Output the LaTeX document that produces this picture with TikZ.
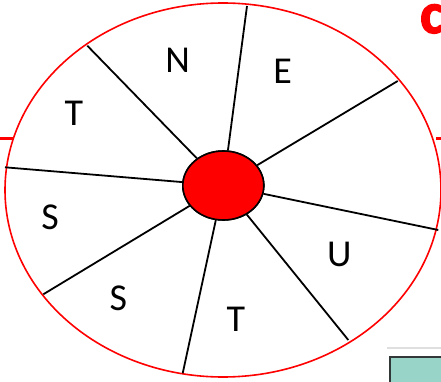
\documentclass[tikz,border=0pt]{standalone}
\usepackage{fontspec}
\setmainfont{Carlito}
\newfontfamily\heavyfont[FakeBold=2.5]{Carlito Bold}
\usetikzlibrary{shapes.geometric}
\definecolor{boxteal}{RGB}{152,212,200}
\definecolor{boxedge}{RGB}{50,55,55}
\tikzset{
  rim/.style={draw=red, line width=1.6pt},
  spoke/.style={draw=black, line width=1.8pt},
  hub/.style={ellipse, draw=black, line width=1.6pt, fill=red, minimum width=81pt, minimum height=69pt, inner sep=0pt},
  letter/.style={font=\fontsize{38}{40}\selectfont, inner sep=0pt},
  redbar/.style={draw=red, line width=3pt},
}
\begin{document}
\begin{tikzpicture}[x=1pt,y=-1pt]
\useasboundingbox (0,0) rectangle (441,382);
\begin{scope}
\clip (0,0) rectangle (441,382);
% title fragment
\node[anchor=base west, text=red, font=\fontsize{58}{60}\heavyfont, inner sep=0pt] (title) at (420,33) {c};
% bottom-right box
\draw[draw=gray!25, line width=2pt] (387,348) -- (450,348);
\draw[draw=boxedge, fill=boxteal, line width=2pt] (390,357) rectangle (460,400);
\end{scope}
% red bars
\coordinate (bl0) at (0,139);
\coordinate (bl1) at (12.5,139);
\coordinate (br0) at (436,139);
\coordinate (br1) at (441,139);
\draw[redbar] (bl0) -- (bl1);
\draw[redbar] (br0) -- (br1);
% outer ellipse
\draw[rim] (223,190) ellipse [x radius=218, y radius=187];
% spoke ends
\coordinate (o1) at (87.3,45.7);
\coordinate (o2) at (247,6);
\coordinate (o3) at (397.7,81);
\coordinate (o4) at (438.3,230);
\coordinate (o5) at (348.3,340);
\coordinate (o6) at (182.7,373.3);
\coordinate (o7) at (43.3,294.3);
\coordinate (o8) at (5,167.3);
\node[hub] (c) at (223.3,185.5) {};
\foreach \i in {1,...,8} { \draw[spoke] (c) -- (o\i); }
\node[hub] at (c) {};
% labels
\node[letter] (lN) at (177.7,60) {N};
\node[letter] (lE) at (282.7,71.7) {E};
\node[letter] (lT1) at (74,113.3) {T};
\node[letter] (lS1) at (50,217.3) {S};
\node[letter] (lS2) at (118.3,298.3) {S};
\node[letter] (lT2) at (236,319.3) {T};
\node[letter] (lU) at (339.3,254) {U};
\end{tikzpicture}
\end{document}
